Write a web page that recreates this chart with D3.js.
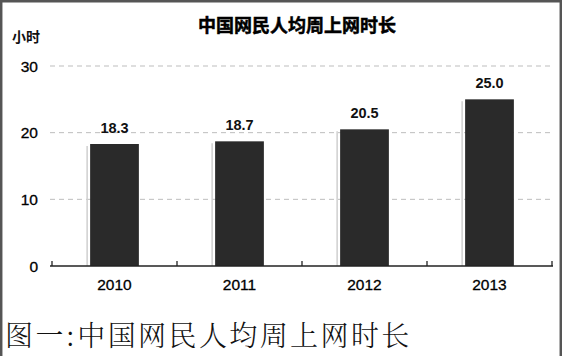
<!DOCTYPE html>
<html><head><meta charset="utf-8">
<script src="https://cdn.jsdelivr.net/npm/d3@7"></script>
<style>
html,body{margin:0;padding:0;background:#fff;}
svg{display:block;}
</style></head>
<body>
<svg id="c" width="562" height="356"></svg>
<script>
const years = ["2010","2011","2012","2013"];
const hours = [18.3, 18.7, 20.5, 25.0];
const yTicks = [0, 10, 20, 30];
const title = "中国网民人均周上网时长";
const unit = "小时";
const caption = "图一:中国网民人均周上网时长";

const svg = d3.select("#c");
const W = 562, H = 356;
svg.append("rect").attr("x",0).attr("y",0).attr("width",W).attr("height",H).attr("fill","#fff");

const x = d3.scaleBand().domain(years).range([52, 552]).paddingInner(0.61).paddingOuter(0.305);
const y = d3.scaleLinear().domain([0, 30]).range([266, 66]);
const sans = "'Liberation Sans', Arial, 'Noto Sans CJK SC', sans-serif";

// gridlines
svg.append("g").selectAll("line").data(yTicks.filter(d=>d>0)).join("line")
  .attr("x1", 50).attr("x2", 553)
  .attr("y1", d=>y(d)).attr("y2", d=>y(d))
  .attr("stroke", "#bdbdbd").attr("stroke-width", 1).attr("stroke-dasharray", "5,4");

// y tick labels
svg.append("g").selectAll("text").data(yTicks).join("text")
  .attr("x", 38).attr("y", d=>y(d)).attr("dy","0.36em")
  .attr("text-anchor","end").attr("font-family", sans).attr("font-size", 15.5)
  .attr("fill","#000").attr("stroke","#000").attr("stroke-width",0.3).text(d=>d);

// bar shadows
const g = svg.append("g");
g.selectAll("line.sh").data(years).join("line").attr("class","sh")
  .attr("x1", d=>x(d)-3).attr("x2", d=>x(d)-3)
  .attr("y1", (d,i)=>y(hours[i])+2).attr("y2", y(0))
  .attr("stroke", "#cfcfcf").attr("stroke-width", 1.5);

// bars
g.selectAll("rect").data(years).join("rect")
  .attr("x", d=>x(d)).attr("width", x.bandwidth())
  .attr("y", (d,i)=>y(hours[i])).attr("height", (d,i)=>y(0)-y(hours[i]))
  .attr("fill", "#2a2a2a");

// value labels
g.selectAll("text").data(years).join("text")
  .attr("x", d=>x(d)+x.bandwidth()/2).attr("y", (d,i)=>y(hours[i])-11)
  .attr("text-anchor","middle").attr("font-family", sans).attr("font-size", 14.5)
  .attr("font-weight","bold").attr("fill","#111")
  .text((d,i)=>hours[i].toFixed(1));

// x axis
const ax = svg.append("g").attr("transform", `translate(0,${y(0)})`);
ax.append("line").attr("x1", 50).attr("x2", 553).attr("y1",0).attr("y2",0)
  .attr("stroke","#222").attr("stroke-width",1.3);
const step = x.step();
const bounds = years.map(d=>x(d) - (step - x.bandwidth())/2).concat([x(years[3]) + x.bandwidth() + (step - x.bandwidth())/2]);
ax.selectAll("line.tk").data(bounds).join("line").attr("class","tk")
  .attr("x1", d=>d).attr("x2", d=>d).attr("y1", 0).attr("y2", -5)
  .attr("stroke","#222").attr("stroke-width",1.3);
years.forEach(d=>{
  ax.append("text").attr("x", x(d)+x.bandwidth()/2).attr("y", 24)
    .attr("text-anchor","middle").attr("font-family", sans).attr("font-size",15.5)
    .attr("fill","#000").attr("stroke","#000").attr("stroke-width",0.3).text(d);
});

// title
svg.append("text").attr("x", 297).attr("y", 26).attr("dy","0.35em")
  .attr("text-anchor","middle").attr("font-family","'Noto Sans CJK SC', sans-serif")
  .attr("font-size", 18).attr("font-weight","bold").attr("fill","#000")
  .attr("stroke","#000").attr("stroke-width",0.5).text(title);

// unit
svg.append("text").attr("x", 12).attr("y", 37).attr("dy","0.35em")
  .attr("font-family","'Noto Sans CJK SC', sans-serif")
  .attr("font-size", 14).attr("font-weight","bold").attr("fill","#111").text(unit);

// caption
svg.append("text").attr("x", 5).attr("y", 346)
  .attr("font-family","'Noto Serif CJK SC','Noto Sans CJK SC', serif")
  .attr("font-size", 28).attr("font-weight", 300).attr("letter-spacing", 2.4)
  .attr("fill","#111").text(caption);

// frame (top, left, right)
svg.append("path").attr("d", `M1.2,${H} V1.2 H${W-1.2} V${H}`)
  .attr("fill","none").attr("stroke","#555").attr("stroke-width",2.5);
</script>
</body></html>
